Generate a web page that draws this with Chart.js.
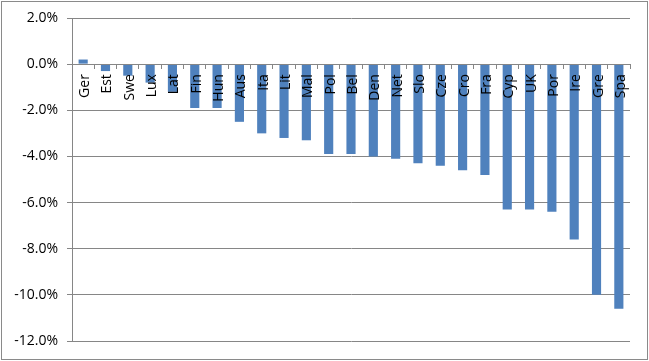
<!DOCTYPE html>
<html>
<head>
<meta charset="utf-8">
<script src="https://cdn.jsdelivr.net/npm/chart.js@4/dist/chart.umd.min.js"></script>
<style>
  html, body { margin: 0; padding: 0; background: #fff; }
  canvas { display: block; }
</style>
</head>
<body>
<canvas id="c" width="649" height="361"></canvas>
<script>
const categories = ["Ger","Est","Swe","Lux","Lat","Fin","Hun","Aus","Ita","Lit","Mal","Pol","Bel","Den","Net","Slo","Cze","Cro","Fra","Cyp","UK","Por","Ire","Gre","Spa"];
const values = [0.2,-0.3,-0.5,-0.8,-1.2,-1.9,-1.9,-2.5,-3.0,-3.2,-3.3,-3.9,-3.9,-4.0,-4.1,-4.3,-4.4,-4.6,-4.8,-6.3,-6.3,-6.4,-7.6,-10.0,-10.6];
const yTicks = [2,0,-2,-4,-6,-8,-10,-12];

const FONT = { family: "'Open Sans', sans-serif", size: 14 };
const GRID = '#868686';

const frame = {
  id: 'frame',
  beforeDraw(chart) {
    const ctx = chart.ctx;
    ctx.save();
    ctx.fillStyle = '#fff';
    ctx.fillRect(0, 0, chart.width, chart.height);
    ctx.restore();
  },
  afterDraw(chart) {
    const ctx = chart.ctx;
    ctx.save();
    ctx.strokeStyle = '#8a8a8a';
    ctx.lineWidth = 1;
    ctx.strokeRect(1.5, 1.5, chart.width - 3, chart.height - 3);
    ctx.restore();
  }
};

new Chart(document.getElementById('c'), {
  type: 'bar',
  data: {
    labels: categories,
    datasets: [{
      data: values,
      backgroundColor: '#4F81BD',
      borderWidth: 0,
      barPercentage: 0.41,
      categoryPercentage: 1.0
    }]
  },
  options: {
    responsive: false,
    animation: false,
    layout: { padding: { top: 18, right: 19, bottom: 20, left: 0 } },
    plugins: { legend: { display: false }, tooltip: { enabled: false } },
    scales: {
      x: {
        type: 'category',
        position: { y: 0 },
        offset: true,
        grid: { display: true, offset: true, drawOnChartArea: false, drawTicks: true, tickLength: 4, color: GRID, z: 1 },
        border: { display: true, color: GRID, z: 1 },
        ticks: { color: '#000', font: FONT, minRotation: 90, maxRotation: 90, autoSkip: false, padding: 6, labelOffset: 2, z: 2 }
      },
      y: {
        min: -12,
        max: 2,
        afterFit(scale) { scale.width = 72; },
        afterBuildTicks(scale) { scale.ticks = yTicks.map(v => ({ value: v })); },
        grid: { color: GRID, tickLength: 5, drawTicks: true },
        border: { display: true, color: GRID },
        ticks: {
          color: '#000',
          font: FONT,
          padding: 9,
          callback: (v) => v.toFixed(1) + '%'
        }
      }
    }
  },
  plugins: [frame]
});
</script>
</body>
</html>
